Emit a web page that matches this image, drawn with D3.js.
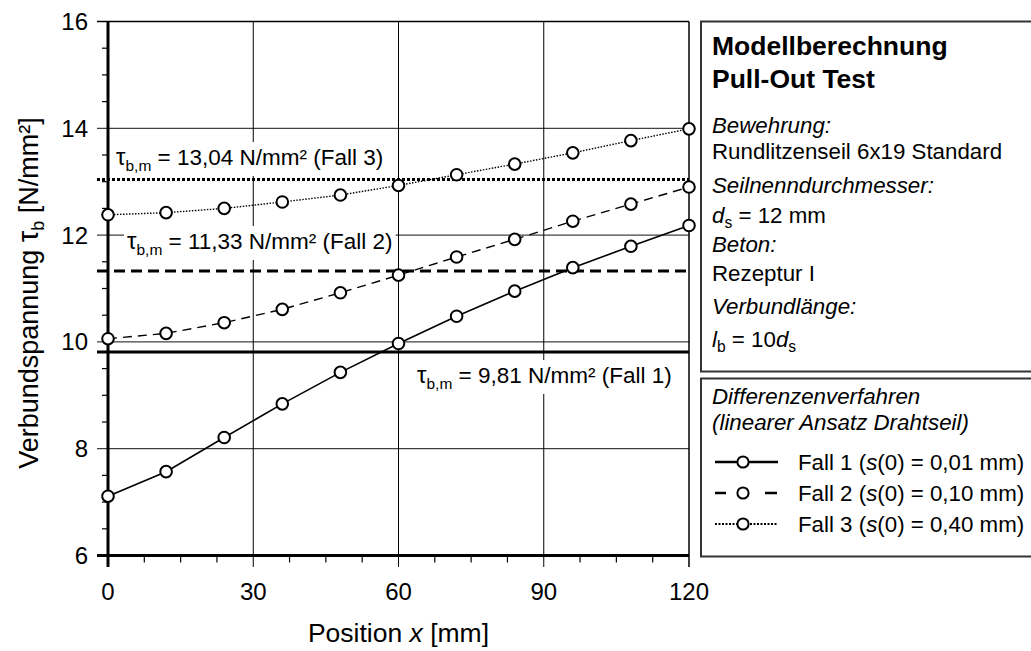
<!DOCTYPE html>
<html>
<head>
<meta charset="utf-8">
<script src="https://cdn.jsdelivr.net/npm/d3@7"></script>
<style>
  html, body { margin: 0; padding: 0; background: #fff; }
  svg { display: block; font-family: "Liberation Sans", Arial, sans-serif; }
</style>
</head>
<body>
<svg id="chart" width="1031" height="651"></svg>
<script>
// ---------- data ----------
const positions = [0, 12, 24, 36, 48, 60, 72, 84, 96, 108, 120];
const fall1 = [7.11, 7.57, 8.21, 8.84, 9.43, 9.97, 10.48, 10.95, 11.39, 11.79, 12.18];
const fall2 = [10.06, 10.16, 10.36, 10.61, 10.92, 11.25, 11.59, 11.92, 12.26, 12.58, 12.90];
const fall3 = [12.38, 12.42, 12.50, 12.62, 12.75, 12.93, 13.13, 13.33, 13.54, 13.77, 13.99];
const meanValues = [9.81, 11.33, 13.04];
const meanLabels = ["9,81", "11,33", "13,04"];
const caseNames = ["Fall 1", "Fall 2", "Fall 3"];
const slipValues = ["0,01", "0,10", "0,40"];
const xTicks = [0, 30, 60, 90, 120];
const yTicks = [6, 8, 10, 12, 14, 16];
const xMinorStep = 7.5;
const yMinorStep = 0.5;

// ---------- layout ----------
const svg = d3.select("#chart");
const x = d3.scaleLinear().domain([0, 120]).range([108, 689]);
const y = d3.scaleLinear().domain([6, 16]).range([555.5, 21.5]);

const seriesStyles = [
  { dash: null, width: 1.6 },
  { dash: "9,6", width: 1.4 },
  { dash: "1.5,1.5", width: 1.4 }
];
const meanStyles = [
  { dash: null },
  { dash: "11,6" },
  { dash: "3,2" }
];

// grid lines (horizontal)
const g = svg.append("g");
g.selectAll("line.hgrid").data(yTicks.filter(d => d > 6 && d < 16)).enter()
  .append("line").attr("class", "hgrid")
  .attr("x1", 97).attr("x2", x(120))
  .attr("y1", d => y(d)).attr("y2", d => y(d))
  .attr("stroke", "#111").attr("stroke-width", 1);
// vertical grid lines (extend below as major ticks)
g.selectAll("line.vgrid").data(xTicks.filter(d => d > 0 && d < 120)).enter()
  .append("line").attr("class", "vgrid")
  .attr("x1", d => x(d)).attr("x2", d => x(d))
  .attr("y1", y(16)).attr("y2", 567)
  .attr("stroke", "#000").attr("stroke-width", 1);

// x minor ticks
const xMinor = d3.range(0, 120 + 0.001, xMinorStep).filter(v => xTicks.indexOf(v) < 0);
g.selectAll("line.xminor").data(xMinor).enter().append("line")
  .attr("x1", d => x(d)).attr("x2", d => x(d))
  .attr("y1", y(6)).attr("y2", y(6) + 7)
  .attr("stroke", "#000").attr("stroke-width", 1.2);
// y minor ticks
const yMinor = d3.range(6, 16 + 0.001, yMinorStep).filter(v => yTicks.indexOf(v) < 0);
g.selectAll("line.yminor").data(yMinor).enter().append("line")
  .attr("x1", x(0) - 6).attr("x2", x(0))
  .attr("y1", d => y(d)).attr("y2", d => y(d))
  .attr("stroke", "#000").attr("stroke-width", 1.2);

// mean-value labels with white background
const labelPos = [
  { x: 417, y: 383 },
  { x: 127, y: 249 },
  { x: 116, y: 165 }
];
const labelG = svg.append("g");
meanValues.forEach((v, i) => {
  const t = labelG.append("text")
    .attr("x", labelPos[i].x).attr("y", labelPos[i].y)
    .attr("font-size", 22.5).attr("fill", "#000");
  t.append("tspan").attr("font-size", 24).text("τ");
  t.append("tspan").attr("font-size", 15.5).attr("dy", 6).text("b,m");
  t.append("tspan").attr("dy", -6).text(" = " + meanLabels[i] + " N/mm² (" + caseNames[i] + ")");
  const bb = t.node().getBBox();
  labelG.insert("rect", "text")
    .attr("x", bb.x - 3).attr("y", bb.y - 1)
    .attr("width", bb.width + 6).attr("height", bb.height + 3)
    .attr("fill", "#fff");
});

// frame: top & right thin, left & bottom thick
svg.append("line").attr("x1", 97).attr("x2", x(120)).attr("y1", y(16)).attr("y2", y(16))
  .attr("stroke", "#000").attr("stroke-width", 1.5);
svg.append("line").attr("x1", x(120)).attr("x2", x(120)).attr("y1", y(16)).attr("y2", 567)
  .attr("stroke", "#000").attr("stroke-width", 1.5);
svg.append("line").attr("x1", x(0)).attr("x2", x(0)).attr("y1", y(16)).attr("y2", 567)
  .attr("stroke", "#000").attr("stroke-width", 3);
svg.append("line").attr("x1", 97).attr("x2", x(120)).attr("y1", y(6)).attr("y2", y(6))
  .attr("stroke", "#000").attr("stroke-width", 3);

// mean lines
meanValues.forEach((v, i) => {
  svg.append("line")
    .attr("x1", 97).attr("x2", x(120))
    .attr("y1", y(v)).attr("y2", y(v))
    .attr("stroke", "#000").attr("stroke-width", 3)
    .attr("stroke-dasharray", meanStyles[i].dash);
});

// series
const seriesData = [fall1, fall2, fall3];
const line = d3.line().x(d => x(d[0])).y(d => y(d[1]));
seriesData.forEach((vals, i) => {
  const pts = positions.map((p, k) => [p, vals[k]]);
  svg.append("path").datum(pts)
    .attr("d", line).attr("fill", "none")
    .attr("stroke", "#000").attr("stroke-width", seriesStyles[i].width)
    .attr("stroke-dasharray", seriesStyles[i].dash);
});
seriesData.forEach((vals, i) => {
  const pts = positions.map((p, k) => [p, vals[k]]);
  svg.append("g").selectAll("circle").data(pts).enter().append("circle")
    .attr("cx", d => x(d[0])).attr("cy", d => y(d[1])).attr("r", 5.8)
    .attr("fill", "#fff").attr("stroke", "#000").attr("stroke-width", 2);
});

// tick labels
svg.append("g").selectAll("text").data(yTicks).enter().append("text")
  .attr("x", 88).attr("y", d => y(d)).attr("dy", "0.35em")
  .attr("text-anchor", "end").attr("font-size", 24).text(d => d);
svg.append("g").selectAll("text").data(xTicks).enter().append("text")
  .attr("x", d => x(d)).attr("y", 600)
  .attr("text-anchor", "middle").attr("font-size", 24).text(d => d);

// axis titles
const xt = svg.append("text").attr("x", x(60)).attr("y", 642)
  .attr("text-anchor", "middle").attr("font-size", 26.5);
xt.append("tspan").text("Position ");
xt.append("tspan").attr("font-style", "italic").text("x");
xt.append("tspan").text(" [mm]");

const yt = svg.append("text").attr("transform", "translate(38,293) rotate(-90)")
  .attr("text-anchor", "middle").attr("font-size", 27);
yt.append("tspan").text("Verbundspannung ");
yt.append("tspan").attr("font-size", 29).text("τ");
yt.append("tspan").attr("font-size", 18).attr("dy", 6).text("b");
yt.append("tspan").attr("dy", -6).text(" [N/mm²]");

// ---------- info box ----------
const box1 = svg.append("g");
box1.append("rect").attr("x", 701).attr("y", 21.5).attr("width", 340).attr("height", 350)
  .attr("fill", "none").attr("stroke", "#333").attr("stroke-width", 2);
const TX = 712;
box1.append("text").attr("x", TX).attr("y", 55).attr("font-size", 26.5).attr("font-weight", "bold").text("Modellberechnung");
box1.append("text").attr("x", TX).attr("y", 88).attr("font-size", 26.5).attr("font-weight", "bold").text("Pull-Out Test");
const infoLines = [
  { y: 133, italic: true, parts: [["Bewehrung:"]] },
  { y: 159, parts: [["Rundlitzenseil 6x19 Standard"]] },
  { y: 193, italic: true, parts: [["Seilnenndurchmesser:"]] },
  { y: 223, parts: [["d", "i"], ["s", "sub"], [" = 12 mm"]] },
  { y: 252, italic: true, parts: [["Beton:"]] },
  { y: 281, parts: [["Rezeptur I"]] },
  { y: 314, italic: true, parts: [["Verbundlänge:"]] },
  { y: 347, parts: [["l", "i"], ["b", "sub"], [" = 10"], ["d", "i"], ["s", "sub"]] }
];
function richText(parent, xx, yy, size, parts, italicAll) {
  const t = parent.append("text").attr("x", xx).attr("y", yy).attr("font-size", size);
  if (italicAll) t.attr("font-style", "italic");
  let shifted = false;
  parts.forEach(p => {
    const ts = t.append("tspan").text(p[0]);
    if (p[1] === "i") ts.attr("font-style", "italic");
    if (p[1] === "sub") {
      ts.attr("font-size", size * 0.7).attr("dy", 5);
      shifted = true;
    } else if (shifted) {
      ts.attr("dy", -5);
      shifted = false;
    }
  });
  return t;
}
infoLines.forEach(l => richText(box1, TX, l.y, 22.3, l.parts, l.italic));

// ---------- legend box ----------
const box2 = svg.append("g");
box2.append("rect").attr("x", 701).attr("y", 378.5).attr("width", 340).attr("height", 178)
  .attr("fill", "none").attr("stroke", "#333").attr("stroke-width", 2);
box2.append("text").attr("x", TX).attr("y", 404).attr("font-size", 22.3).attr("font-style", "italic").text("Differenzenverfahren");
box2.append("text").attr("x", TX).attr("y", 430).attr("font-size", 22.3).attr("font-style", "italic").text("(linearer Ansatz Drahtseil)");
const rowY = [462, 493, 524];
const legendSampleStyles = [
  { dash: null, width: 2.6 },
  { dash: "11,39,12", width: 2.6 },
  { dash: "2,1.5", width: 2 }
];
caseNames.forEach((c, i) => {
  const cy = rowY[i];
  box2.append("line").attr("x1", 715).attr("x2", 778).attr("y1", cy).attr("y2", cy)
    .attr("stroke", "#000").attr("stroke-width", legendSampleStyles[i].width)
    .attr("stroke-dasharray", legendSampleStyles[i].dash);
  box2.append("circle").attr("cx", 743).attr("cy", cy).attr("r", 5.6)
    .attr("fill", "#fff").attr("stroke", "#000").attr("stroke-width", 2);
  richText(box2, 798, cy + 8, 22.3, [[c + " ("], ["s", "i"], ["(0) = " + slipValues[i] + " mm)"]], false);
});
</script>
</body>
</html>
